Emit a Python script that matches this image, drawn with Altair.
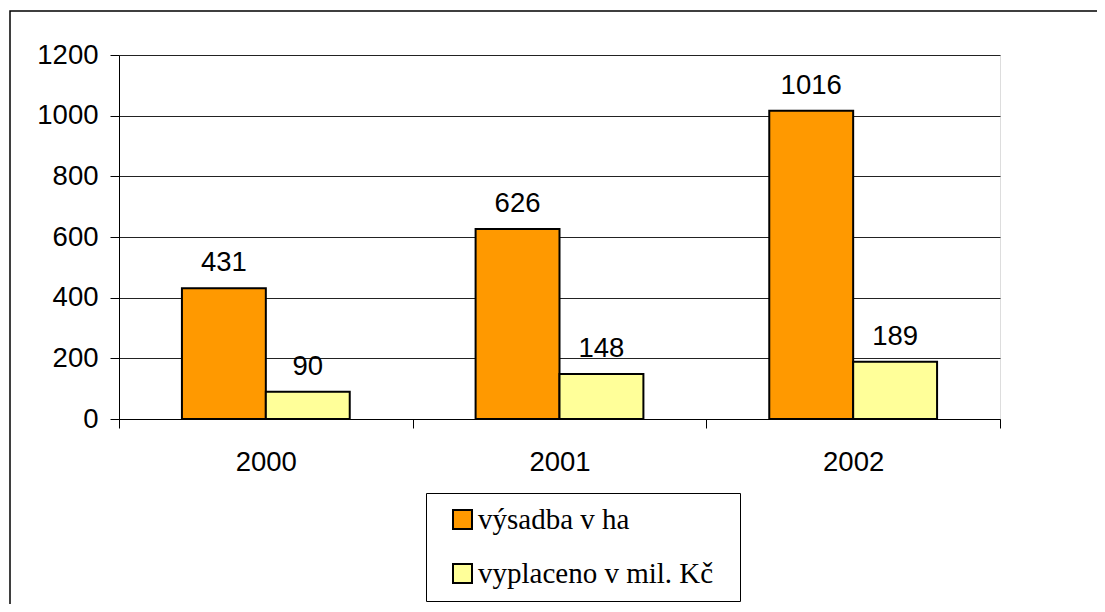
import altair as alt
import pandas as pd

years = ["2000", "2001", "2002"]
series = ["výsadba v ha", "vyplaceno v mil. Kč"]
vysadba = [431, 626, 1016]
vyplaceno = [90, 148, 189]
colors = ["#FF9900", "#FFFF99"]
y_ticks = [0, 200, 400, 600, 800, 1000, 1200]

rows = []
for i, yr in enumerate(years):
    rows.append({"rok": yr, "serie": series[0], "hodnota": vysadba[i]})
    rows.append({"rok": yr, "serie": series[1], "hodnota": vyplaceno[i]})
df = pd.DataFrame(rows)

W, H = 881, 364
SANS = "Liberation Sans"
SERIF = "Liberation Serif"
FS = 27.5

x_enc = alt.X("rok:N", sort=years, title=None,
              scale=alt.Scale(paddingInner=0, paddingOuter=0),
              axis=alt.Axis(labelAngle=0, tickBand="extent", tickSize=9,
                            tickColor="black", domainColor="black",
                            labelFont=SANS, labelFontSize=FS, labelColor="black",
                            labelPadding=20, grid=False))
xo_enc = alt.XOffset("serie:N", sort=series,
                     scale=alt.Scale(paddingInner=0, paddingOuter=0.75))
y_enc = alt.Y("hodnota:Q", title=None,
              scale=alt.Scale(domain=[0, 1200], nice=False),
              axis=alt.Axis(values=y_ticks, format="d", tickSize=9, tickColor="black",
                            domainColor="black", labelFont=SANS, labelFontSize=FS,
                            labelColor="black", labelPadding=12,
                            grid=True, gridColor="#222222", gridWidth=1))

base = alt.Chart(df)

frame = alt.Chart(pd.DataFrame({"a": [0]})).mark_rect(
    fill=None, stroke="black", strokeWidth=1.5
).encode(x=alt.value(-109), x2=alt.value(1300), y=alt.value(-44), y2=alt.value(800))

bars = base.mark_bar(stroke="black", strokeWidth=2).encode(
    x=x_enc, xOffset=xo_enc, y=y_enc,
    color=alt.Color("serie:N", sort=series,
                    scale=alt.Scale(domain=series, range=colors),
                    legend=alt.Legend(title=None, orient="none", legendX=307, legendY=438,
                                      strokeColor="black", fillColor="white",
                                      padding=12, symbolOffset=10,
                                      symbolType="square", symbolSize=361,
                                      symbolStrokeColor="black", symbolStrokeWidth=2,
                                      labelFont=SERIF, labelFontSize=29, labelColor="black",
                                      labelOffset=1, rowPadding=24, labelLimit=400,
                                      labelExpr="datum.label + '\u2002\u200b'")),
)

labels = base.mark_text(font=SANS, fontSize=FS, color="black",
                        baseline="alphabetic", dy=-17).encode(
    x=alt.X("rok:N", sort=years), xOffset=alt.XOffset("serie:N", sort=series),
    y=alt.Y("hodnota:Q"), text=alt.Text("hodnota:Q"))

chart = alt.layer(frame, bars, labels).properties(
    width=W, height=H,
    autosize=alt.AutoSizeParams(type="none"),
    padding={"left": 111, "top": 47, "right": 97, "bottom": 185},
).configure_view(stroke="#808080", strokeWidth=2).configure(background="white")

chart.save("out.html", embed_options={"renderer": "svg", "actions": False})
